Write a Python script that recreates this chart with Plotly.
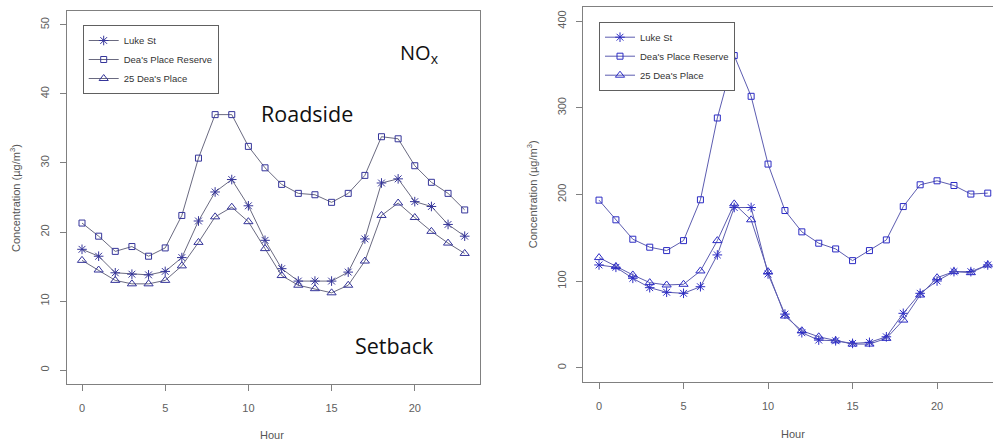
import plotly.graph_objects as go

hours = list(range(24))

# Left panel (NOx, roadside vs setback)
left_luke = [17.5, 16.5, 14.1, 13.9, 13.8, 14.3, 16.3, 21.6, 25.8, 27.6, 23.8, 18.8,
             14.7, 12.9, 12.9, 12.9, 14.2, 19.0, 27.1, 27.7, 24.4, 23.7, 21.1, 19.4]
left_reserve = [21.3, 19.4, 17.2, 17.9, 16.5, 17.7, 22.4, 30.7, 37.0, 37.0, 32.4, 29.3,
                26.9, 25.6, 25.4, 24.3, 25.6, 28.2, 33.8, 33.5, 29.6, 27.2, 25.6, 23.2]
left_25 = [15.9, 14.5, 13.0, 12.5, 12.5, 13.0, 15.1, 18.5, 22.2, 23.6, 21.5, 17.6,
           13.7, 12.3, 11.8, 11.2, 12.3, 15.8, 22.4, 24.2, 22.1, 20.1, 18.4, 16.9]

# Right panel
right_luke = [118.7, 116, 103.3, 92.5, 87.2, 86, 93.6, 130.3, 185, 185, 108.3, 62,
              40.5, 32, 31.2, 28.2, 29.4, 35.8, 62.9, 86, 100.2, 111, 111, 118.7]
right_reserve = [193.5, 170.8, 148.4, 139.2, 135.3, 146.8, 193.9, 288.3, 360.3, 313.3, 235.1, 181.5,
                 156.9, 143.8, 137.2, 123.7, 135.3, 147.6, 186.1, 211.2, 215.8, 210.4, 200.5, 201.6]
right_25 = [127.2, 116.8, 107.2, 98.3, 95.6, 96.4, 111.8, 146.8, 189.2, 170.8, 111, 59.8,
            42.8, 35.8, 31.2, 27.4, 27.4, 34, 55.1, 84, 104, 111, 109.8, 118.7]

series_names = ["Luke St", "Dea's Place Reserve", "25 Dea's Place"]
symbols = ["asterisk-open", "square-open", "triangle-up-open"]
sizes = [8, 6, 8]

left_tick_vals = [0, 10, 20, 30, 40, 50]
right_tick_vals = [0, 100, 200, 300, 400]
x_tick_vals = [0, 5, 10, 15, 20]

W, H = 993, 446

fig = go.Figure()

left_line = "#6a6a80"
left_mark = "#35359a"
right_line = "#5c5cb0"
right_mark = "#2c2cc4"

for name, ys, sym, sz in zip(series_names, [left_luke, left_reserve, left_25], symbols, sizes):
    fig.add_trace(go.Scatter(
        x=hours, y=ys, name=name, mode="lines+markers",
        line=dict(color=left_line, width=1),
        marker=dict(symbol=sym, size=sz, color=left_mark, line=dict(width=1, color=left_mark)),
        xaxis="x", yaxis="y", legend="legend"))

for name, ys, sym, sz in zip(series_names, [right_luke, right_reserve, right_25], symbols, sizes):
    fig.add_trace(go.Scatter(
        x=hours, y=ys, name=name, mode="lines+markers",
        line=dict(color=right_line, width=1),
        marker=dict(symbol=sym, size=sz, color=right_mark, line=dict(width=1, color=right_mark)),
        xaxis="x2", yaxis="y2", legend="legend2"))

tickfont = dict(family="Liberation Sans, Arial, sans-serif", size=11, color="#606060")
frame = "#808080"

def px_x(p):
    return p / W

def px_y(p):
    return (H - p) / H

common_x = dict(tickmode="array", tickvals=x_tick_vals, ticks="outside", ticklen=6,
                tickcolor=frame, showgrid=False, zeroline=False, showline=True,
                linecolor=frame, linewidth=1, tickfont=tickfont, ticklabelstandoff=8)
common_y = dict(ticks="outside", ticklen=6, tickcolor=frame, showgrid=False, zeroline=False,
                showline=True, linecolor=frame, linewidth=1, tickfont=tickfont,
                tickangle=-90, ticklabelstandoff=6, tickmode="array")

legend_font = dict(family="Liberation Sans, Arial, sans-serif", size=9.5, color="#333333")

fig.update_layout(
    width=W, height=H, margin=dict(l=0, r=0, t=0, b=0),
    paper_bgcolor="white", plot_bgcolor="white",
    xaxis=dict(domain=[px_x(66.7), px_x(480)], range=[-0.92, 23.92], mirror=True, anchor="y", **common_x),
    yaxis=dict(domain=[px_y(384), px_y(11)], range=[-2, 52], mirror=True, anchor="x",
               tickvals=left_tick_vals, **common_y),
    xaxis2=dict(domain=[px_x(583.3), 1.0], range=[-0.93, 23.31], mirror=True, anchor="y2", **common_x),
    yaxis2=dict(domain=[px_y(381.7), px_y(7.3)], range=[-16, 416], mirror=False, anchor="x2",
                tickvals=right_tick_vals, **common_y),
    legend=dict(x=px_x(82.7), y=px_y(25), xanchor="left", yanchor="top",
                bgcolor="white", bordercolor="#606060", borderwidth=1,
                font=legend_font, itemwidth=30, tracegroupgap=0),
    legend2=dict(x=px_x(599), y=px_y(21.7), xanchor="left", yanchor="top",
                 bgcolor="white", bordercolor="#606060", borderwidth=1,
                 font=legend_font, itemwidth=30, tracegroupgap=0),
    showlegend=True,
)

title_font = dict(family="Liberation Sans, Arial, sans-serif", size=11, color="#555555")
big_font = dict(family="Open Sans, Noto Sans, sans-serif", size=21.5, color="#111111")

annotations = [
    dict(text="Hour", x=px_x(272), y=px_y(435), xref="paper", yref="paper",
         showarrow=False, font=title_font, xanchor="center", yanchor="middle"),
    dict(text="Hour", x=px_x(793), y=px_y(434), xref="paper", yref="paper",
         showarrow=False, font=title_font, xanchor="center", yanchor="middle"),
    dict(text="Concentration (µg/m<sup>3</sup>)", x=px_x(15), y=px_y(198), xref="paper", yref="paper",
         showarrow=False, font=title_font, textangle=-90, xanchor="center", yanchor="middle"),
    dict(text="Concentration (µg/m<sup>3</sup>)", x=px_x(531.7), y=px_y(194.5), xref="paper", yref="paper",
         showarrow=False, font=title_font, textangle=-90, xanchor="center", yanchor="middle"),
    dict(text="NO<sub>x</sub>", x=px_x(398), y=px_y(53), xref="paper", yref="paper",
         showarrow=False, font=dict(family="Open Sans, Noto Sans, sans-serif", size=20, color="#111111"),
         xanchor="left", yanchor="middle"),
    dict(text="Roadside", x=px_x(259), y=px_y(114), xref="paper", yref="paper",
         showarrow=False, font=big_font, xanchor="left", yanchor="middle"),
    dict(text="Setback", x=px_x(353), y=px_y(345), xref="paper", yref="paper",
         showarrow=False, font=big_font, xanchor="left", yanchor="middle"),
]
fig.update_layout(annotations=annotations)

fig.write_html("out.html",
               config={"displayModeBar": False},
               post_script="document.body.style.margin='0';document.body.style.overflow='hidden';")
